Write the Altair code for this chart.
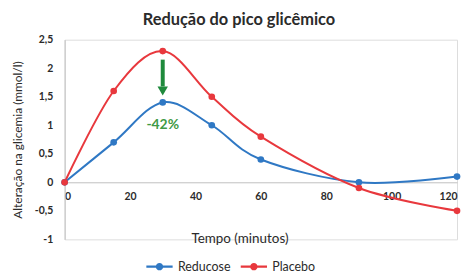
import altair as alt
import pandas as pd

# Data
times = [0, 15, 30, 45, 60, 90, 120]
reducose = [0.0, 0.7, 1.4, 1.0, 0.4, 0.0, 0.1]
placebo = [0.0, 1.6, 2.3, 1.5, 0.8, -0.1, -0.5]
series_names = ["Reducose", "Placebo"]
series_colors = ["#2f78c4", "#e8383d"]
x_ticks = [0, 20, 40, 60, 80, 100, 120]
y_ticks = [-1, -0.5, 0, 0.5, 1, 1.5, 2, 2.5]

# Annotation
arrow_t = [30]
arrow_top = [2.15]
arrow_bottom = [1.68]
arrow_head = [1.6]
note_text = ["-42%"]
note_y = [1.0]

rows = []
for t, r, p in zip(times, reducose, placebo):
    rows.append({"t": t, "v": r, "s": series_names[0]})
    rows.append({"t": t, "v": p, "s": series_names[1]})
df = pd.DataFrame(rows)

FONT = "Lato"
TXT = "#2b2b2b"
sym_path = "M-1,-0.08H1V0.08H-1Z M-0.28,0A0.28,0.28 0 1,1 0.28,0A0.28,0.28 0 1,1 -0.28,0Z"

xscale = alt.Scale(domain=[0, 120], nice=False)
yscale = alt.Scale(domain=[-1, 2.5], nice=False)
cscale = alt.Scale(domain=series_names, range=series_colors)

xaxis = alt.Axis(
    values=x_ticks, title="Tempo (minutos)", offset=-57.43, grid=False,
    ticks=False, domainColor="#c0c0c0", labelFont=FONT, labelFontSize=10.5,
    labelFontWeight="bold", labelOverlap=False,
    labelColor=TXT, labelPadding=9, titleFont=FONT, titleFontSize=13.5,
    titleFontWeight="normal", titleColor=TXT, titleX=176, titleY=57,
    titleBaseline="middle",
)
yaxis = alt.Axis(
    values=y_ticks, title="Alteração na glicemia (mmol/l)", grid=False,
    ticks=False, domainColor="#c0c0c0", labelFont=FONT, labelFontSize=10.5,
    labelFontWeight="bold", labelOverlap=False,
    labelColor=TXT, labelPadding=12,
    labelExpr="replace(toString(datum.value), '.', ',')",
    titleFont=FONT, titleFontSize=12, titleFontWeight="normal",
    titleColor=TXT, titlePadding=10,
)


def X(field):
    return alt.X(field, type="quantitative", scale=xscale, axis=xaxis)


def Y(field):
    return alt.Y(field, type="quantitative", scale=yscale, axis=yaxis)


base = alt.Chart(df)
lines = base.mark_line(interpolate="cardinal", strokeWidth=2).encode(
    x=X("t"), y=Y("v"), color=alt.Color("s:N", scale=cscale, sort=series_names, legend=None))
points = base.mark_point(filled=True, size=45, opacity=1).encode(
    x=X("t"), y=Y("v"),
    color=alt.Color(
        "s:N", scale=cscale, sort=series_names,
        legend=alt.Legend(
            title=None, orient="none", legendX=82, legendY=215,
            direction="horizontal", symbolType=sym_path, symbolSize=700,
            symbolStrokeWidth=0, symbolOpacity=1,
            labelFont=FONT, labelFontSize=12.5, labelColor=TXT,
            columnPadding=10, labelOffset=5,
        ),
    ),
)

ann = pd.DataFrame({"t": arrow_t, "top": arrow_top, "bot": arrow_bottom, "head": arrow_head,
                    "txt": note_text, "ny": note_y})
shaft = alt.Chart(ann).mark_rule(color="#1f8a3c", strokeWidth=4).encode(
    x=X("t"), y=Y("top"), y2="bot:Q")
head = alt.Chart(ann).mark_point(shape="triangle-down", filled=True, size=110, color="#1f8a3c", opacity=1).encode(
    x=X("t"), y=Y("head"))
note = alt.Chart(ann).mark_text(font=FONT, fontSize=14, fontWeight="bold", color="#3f9a45").encode(
    x=X("t"), y=Y("ny"), text="txt:N")

chart = alt.layer(lines, points, shaft, head, note).resolve_legend(color="independent").properties(
    width=395, height=201,
    title=alt.TitleParams("Redução do pico glicêmico", font=FONT, fontSize=16.5,
                          fontWeight="bold", color=TXT, dx=-22, offset=6),
    autosize=alt.AutoSizeParams(type="none"),
    padding={"left": 57, "top": 31, "right": 4, "bottom": 33},
).configure_view(stroke=None).configure(background="white")

chart.save("out.html", embed_options={"renderer": "svg", "actions": False})
